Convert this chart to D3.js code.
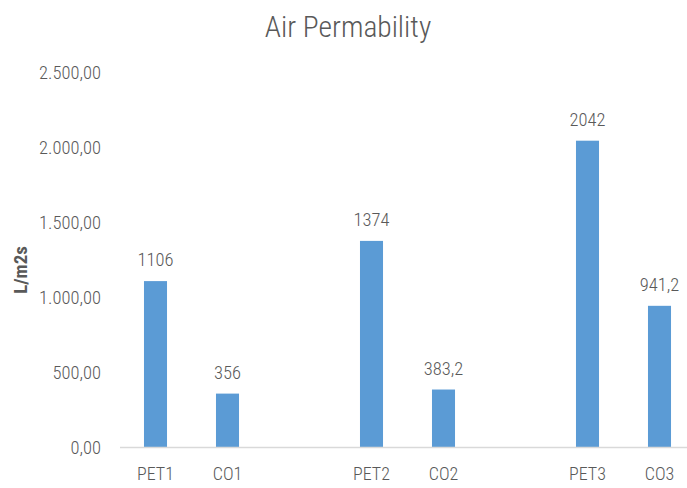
<!DOCTYPE html>
<html>
<head>
<meta charset="utf-8">
<script src="https://cdn.jsdelivr.net/npm/d3@7"></script>
<style>
  html, body { margin: 0; padding: 0; background: #fff; }
  svg { display: block; }
  text { font-family: "Liberation Sans Narrow", "Roboto Condensed", Roboto, sans-serif; fill: #595959; }
</style>
</head>
<body>
<svg id="chart" width="687" height="488"></svg>
<script>
const categories = ["PET1", "CO1", "", "PET2", "CO2", " ", "PET3", "CO3"];
const values = [1106, 356, null, 1374, 383.2, null, 2042, 941.2];
const valueLabels = ["1106", "356", "", "1374", "383,2", "", "2042", "941,2"];
const yTicks = [0, 500, 1000, 1500, 2000, 2500];
const yTickLabels = ["0,00", "500,00", "1.000,00", "1.500,00", "2.000,00", "2.500,00"];
const title = "Air Permability";
const yTitle = "L/m2s";

const svg = d3.select("#chart");
const W = 687, H = 488;
const plot = { left: 119.5, right: 695.5, top: 72, bottom: 447 };

const x = d3.scaleBand().domain(categories).range([plot.left, plot.right]).paddingInner(0.68).paddingOuter(0.34);
const y = d3.scaleLinear().domain([0, 2500]).range([plot.bottom, plot.top]);

svg.append("rect").attr("width", W).attr("height", H).attr("fill", "#fff");

svg.append("text").attr("x", 348).attr("y", 37).attr("text-anchor", "middle")
  .style("font-size", "29.5px").style("font-weight", 300).text(title);

// y axis labels (no line)
const yAxis = d3.axisLeft(y).tickValues(yTicks).tickSize(0).tickPadding(0)
  .tickFormat((d, i) => yTickLabels[i]);
const gy = svg.append("g").attr("transform", `translate(101,0)`).call(yAxis);
gy.select(".domain").remove();
gy.selectAll("text").style("font-size", "18.5px").style("font-weight", 300).attr("fill", "#595959").attr("dy", "0.36em");

// y title
svg.append("text").attr("transform", `translate(27,270) rotate(-90)`).attr("text-anchor", "middle")
  .style("font-size", "19px").style("font-weight", "bold").text(yTitle);

// bars
const data = categories.map((c, i) => ({ c, v: values[i], l: valueLabels[i] })).filter(d => d.v != null);
svg.append("g").selectAll("rect").data(data).join("rect")
  .attr("x", d => x(d.c)).attr("width", x.bandwidth())
  .attr("y", d => y(d.v)).attr("height", d => y(0) - y(d.v))
  .attr("fill", "#5B9BD5");

// x axis
const xAxis = d3.axisBottom(x).tickSize(0).tickPadding(0).tickFormat(d => d.trim());
const gx = svg.append("g").attr("transform", `translate(0,${plot.bottom})`).call(xAxis);
gx.select(".domain").attr("stroke", "#D9D9D9").attr("stroke-width", 1.3);
gx.selectAll("text").style("font-size", "18px").style("font-weight", 300).attr("fill", "#595959").attr("y", 33).attr("dy", 0);

// value labels
svg.append("g").selectAll("text").data(data).join("text")
  .attr("x", d => x(d.c) + x.bandwidth() / 2).attr("y", d => y(d.v) - 15)
  .attr("text-anchor", "middle").style("font-size", "18.5px").style("font-weight", 300).text(d => d.l);
</script>
</body>
</html>
